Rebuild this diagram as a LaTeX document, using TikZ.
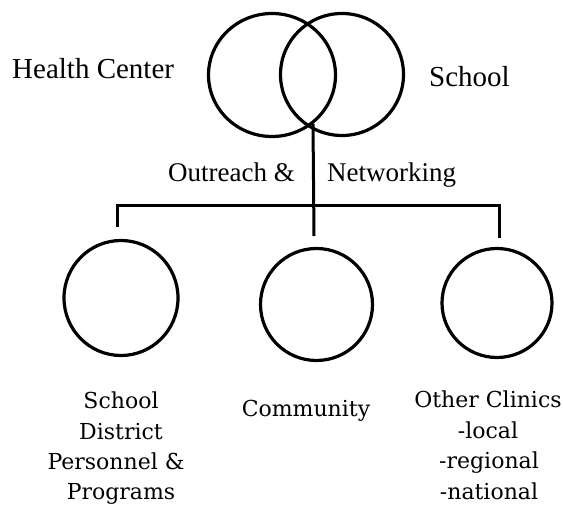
\documentclass[tikz,border=0pt]{standalone}
\usepackage{fontspec}
\setmainfont{Liberation Serif}
\newfontfamily\lowfont{DejaVu Serif}
\usetikzlibrary{shapes.geometric}
\tikzset{
  ring/.style={draw, ellipse, line width=3.2pt, inner sep=0pt},
  topbig/.style={font=\fontsize{29}{34}\selectfont, inner sep=0pt, anchor=base west},
  mid/.style={font=\fontsize{27}{32}\selectfont, inner sep=0pt, anchor=base west},
  low/.style={font=\lowfont\fontsize{22}{26}\selectfont, inner sep=0pt, anchor=base},
  link/.style={line width=3pt}
}
\begin{document}
\begin{tikzpicture}[x=1pt,y=-1pt]
\useasboundingbox (0,0) rectangle (563,510);
% top Venn circles
\node[ring, minimum width=127pt, minimum height=123pt] (hc) at (272,75) {};
\node[ring, minimum width=123pt, minimum height=122pt] (sc) at (342,74.5) {};
\node[topbig] (hctext) at (12,79) {Health Center};
\node[topbig] (sctext) at (429,87) {School};
\node[mid] (outr) at (168,182) {Outreach \&};
\node[mid] (netw) at (327,182) {Networking};
% connectors
\coordinate (hub) at (313,124);
\coordinate (lend) at (117,227);
\coordinate (rbar) at (501,206);
\coordinate (midend) at (314,236);
\coordinate (rtop) at (499,206);
\coordinate (rend) at (499,238);
\draw[link] (hub) -- (midend);
\draw[link] (lend) |- (rbar);
\draw[link] (rtop) -- (rend);
% bottom circles
\node[ring, minimum width=114pt, minimum height=115pt] (sd) at (121,298) {};
\node[ring, minimum width=112pt, minimum height=112pt] (cm) at (316.5,304.5) {};
\node[ring, minimum width=110pt, minimum height=109pt] (oc) at (497,303) {};
% bottom labels
\node[low] (sd1) at (121,409) {School};
\node[low] (sd2) at (121,439.5) {District};
\node[low] (sd3) at (116,470) {Personnel \&};
\node[low] (sd4) at (121,500) {Programs};
\node[low] (cm1) at (306,417) {Community};
\node[low] (oc1) at (488,408) {Other Clinics};
\node[low] (oc2) at (488,438.5) {-local};
\node[low] (oc3) at (489,469) {-regional};
\node[low] (oc4) at (489,500) {-national};
\end{tikzpicture}
\end{document}
